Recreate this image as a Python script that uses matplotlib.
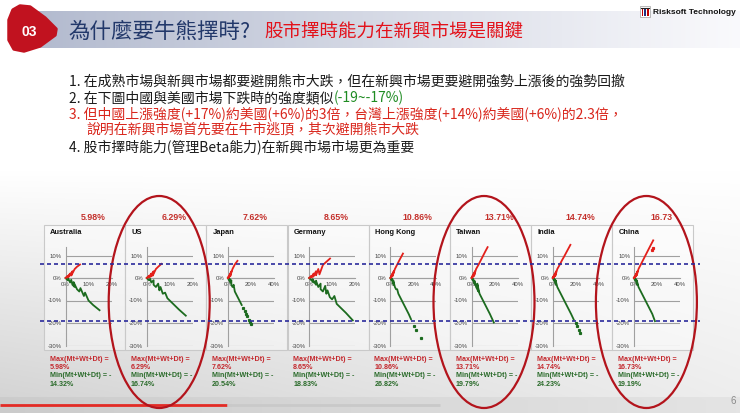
import matplotlib
matplotlib.use('Agg')
import matplotlib.pyplot as plt
import numpy as np
import matplotlib.transforms as mtransforms
from matplotlib.patches import Ellipse, Rectangle, Polygon

W, H = 740, 413
CJK = ['Noto Sans CJK TC', 'DejaVu Sans']
LAT = ['Liberation Sans', 'DejaVu Sans']

# ---------------- data ----------------
markets = ['Australia', 'US', 'Japan', 'Germany', 'Hong Kong', 'Taiwan', 'India', 'China']
max_labels = ['5.98%', '6.29%', '7.62%', '8.65%', '10.86%', '13.71%', '14.74%', '16.73']
max_vals = [5.98, 6.29, 7.62, 8.65, 10.86, 13.71, 14.74, 16.73]
min_vals = [-14.32, -16.74, -20.54, -18.83, -26.82, -19.79, -24.23, -19.19]
x_ticks = [[0, 10, 20], [0, 10, 20], [0, 20, 40], [0, 10, 20],
           [0, 20, 40], [0, 20, 40], [0, 20, 40], [0, 20, 40]]
y_ticks = [-30, -20, -10, 0, 10]
circled = ['US', 'Taiwan', 'China']

up_x = [[0, 1, 0.8, 2, 1.5, 3, 2.5, 4, 5, 6.3],
        [0, 1, 0.8, 2, 1.6, 3, 2.6, 4, 5, 6.4],
        [0, 1, 0.5, 2, 1.2, 3, 2, 4, 6, 8.3],
        [0, 1, 1, 2, 1.8, 3, 3, 4, 4.5, 6, 7.5, 9.1],
        [0, 1, 0.5, 2, 1.2, 3, 2, 4, 6, 8, 11],
        [0, 1, 0.5, 2, 1.2, 3, 2.2, 4, 6, 8, 10, 12, 14],
        [0, 1, 0.5, 2, 1.2, 3, 2.2, 4, 6, 8, 10, 12.5, 15.4],
        [0, 1, 0.5, 2, 1.5, 3, 2.5, 4, 6, 8, 10, 12, 14, 16.8]]
up_y = [[0, 1, 0.2, 2, 0.6, 3, 1.1, 4, 5, 5.98],
        [0, 1, 0.2, 2, 0.5, 3, 1.0, 4, 5, 6.29],
        [0, 1, 0.2, 2, 0.5, 3, 0.8, 4, 6, 7.62],
        [0, 1, 0.2, 2, 0.6, 3, 1.2, 4, 1.6, 5.8, 7.2, 8.65],
        [0, 1, 0.2, 2, 0.5, 3, 0.9, 4, 6, 8, 10.86],
        [0, 1, 0.2, 2, 0.5, 3, 0.9, 4, 5.8, 7.8, 9.8, 11.8, 13.71],
        [0, 1, 0.2, 2, 0.5, 3, 0.9, 4, 5.8, 7.8, 9.6, 12, 14.74],
        [0, 1, 0.2, 2, 0.6, 3, 1.2, 4, 6, 8, 10, 12, 14, 16.73]]
up_tail_x = [[], [], [], [], [], [], [], [15.5, 16.2]]
up_tail_y = [[], [], [], [], [], [], [], [12.6, 13.4]]

down_x = [[0, 1, 1.2, 2, 2.5, 3, 4, 3.5, 5, 6, 6.5, 8, 8.5, 10, 12, 14.8],
          [0, 1, 1.5, 2, 3, 3, 4, 5, 5.5, 6, 7, 8, 9, 10, 12, 14, 17],
          [0, 1, 1.5, 2, 3, 3, 4, 5, 6, 8, 10, 12],
          [0, 1, 2, 1.5, 3, 3, 4, 5, 5, 6, 7, 7.5, 8, 9, 10, 11, 12, 14, 16, 19],
          [0, 1, 1.5, 2, 3, 2.5, 4, 5, 6, 7, 8, 10, 12, 14, 16, 18],
          [0, 1, 1.5, 2, 3, 2.5, 4, 5, 6, 5, 7, 8, 10, 12, 14, 16, 19.4],
          [0, 1, 1.5, 2, 3, 2.5, 4, 5, 6, 7, 8, 10, 12, 14, 16, 18.3],
          [0, 1, 1.5, 2, 3, 2.5, 4, 5, 6, 7, 8, 10, 12, 14, 16, 18.3]]
down_y = [[0, -1, -0.3, -2, -0.8, -3, -4, -1.8, -5, -6, -4.5, -8, -6.5, -10, -12, -14.32],
          [0, -1, -0.4, -2, -1, -3, -4, -2.5, -5.5, -4, -7, -6.5, -9, -10, -12, -14, -16.74],
          [0, -1, -0.3, -2, -1, -3, -4, -3, -6, -8, -10, -12],
          [0, -1, -2, -0.5, -3, -1.2, -4, -2.5, -5, -6, -3.5, -7, -5.5, -8.5, -9.5, -8, -11.5, -13.5, -15.5, -18.83],
          [0, -1, -0.3, -2, -3, -1, -4, -5, -5, -7, -8, -10, -12, -14, -16, -18.3],
          [0, -1, -0.4, -2, -3, -1.2, -4, -5, -6, -2.5, -7, -8, -10, -12, -14, -16, -19.79],
          [0, -1, -0.3, -2, -3, -1, -4, -5, -6, -7, -8, -10, -12, -14, -16, -18.5],
          [0, -1, -0.3, -2, -3, -1, -4, -5, -6, -7, -8, -10, -12, -14, -16, -19.19]]
down_tail_x = [[], [], [13.5, 14.5, 16, 17, 18.5, 19.5, 20.5], [], [21, 22.5, 26.7], [], [20, 21.5, 23, 24], []]
down_tail_y = [[], [], [-13.5, -14.5, -16, -17, -18.5, -19.5, -20.54], [], [-21.5, -23, -26.82], [], [-20, -21.5, -23, -24.23], []]

# slide text
title_main = '為什麼要牛熊擇時?'
title_sub = '股市擇時能力在新興市場是關鍵'
bullet1 = '1. 在成熟市場與新興市場都要避開熊市大跌，但在新興市場更要避開強勢上漲後的強勢回撤'
bullet2a = '2. 在下圖中國與美國市場下跌時的強度類似'
bullet2b = '(-19~-17%)'
bullet3 = '3. 但中國上漲強度(+17%)約美國(+6%)的3倍，台灣上漲強度(+14%)約美國(+6%)的2.3倍，'
bullet3b = '說明在新興市場首先要在牛市逃頂，其次避開熊市大跌'
bullet4 = '4. 股市擇時能力(管理Beta能力)在新興市場市場更為重要'
band_upper = 6.29    # US max
band_lower = -19.19  # China min

# ---------------- figure ----------------
fig = plt.figure(figsize=(W / 100, H / 100), dpi=100)
bg = fig.add_axes([0, 0, 1, 1], zorder=0)
bg.set_xlim(0, W); bg.set_ylim(H, 0); bg.axis('off')

yy, xx = np.mgrid[0:H, 0:W]
t = np.clip((yy - 170) / 230.0, 0, 1)
shade = 1 - 0.17 * t * (1 - 0.6 * xx / W)
shade[yy > 396] *= 0.96
bg.imshow(np.dstack([shade] * 3), extent=(0, W, H, 0), aspect='auto', zorder=0)

# banner
grad = np.linspace(0, 1, 300)
c0 = np.array([0.70, 0.73, 0.81]); c1 = np.array([0.98, 0.98, 0.99])
band = (c0[None, :] * (1 - grad[:, None]) + c1[None, :] * grad[:, None])[None, :, :]
bg.imshow(band, extent=(30, 740, 48, 11), aspect='auto', zorder=1)
blob = Polygon([(20, 6), (30, 7), (45, 18), (56, 29), (55, 35), (40, 46), (24, 51),
                (14, 49), (9, 40), (9, 20), (13, 10)], closed=True,
               fc='#c1121f', ec='#c1121f', lw=2.5, joinstyle='round', zorder=2)
bg.add_patch(blob)
bg.text(29, 32, '03', color='white', fontsize=10, fontweight='bold', family=LAT,
        ha='center', va='center', zorder=3)
t1 = bg.text(68, 32, title_main, color='#22386a', fontsize=15.5, family=CJK,
             ha='left', va='center', zorder=3)
bg.annotate(title_sub, xy=(1, 0.5), xycoords=t1, xytext=(10, 0), textcoords='offset points',
            color='#e3121b', fontsize=13.3, family=CJK, ha='left', va='center', zorder=3)

# logo
bg.add_patch(Rectangle((640, 6), 10, 11, fc='white', ec='#888', lw=0.4, zorder=3))
for k, c in enumerate(['#c00000', '#1f2f80', '#c00000']):
    bg.add_patch(Rectangle((641.5 + k * 2.7, 8), 1.6, 8, fc=c, ec='none', zorder=4))
bg.plot([641, 649], [7.5, 7.5], color='#222', lw=0.8, zorder=4)
bg.text(653, 12, 'Risksoft Technology', fontsize=6, fontweight='bold', family=LAT,
        color='#111', ha='left', va='center', zorder=3)

# bullets
bx, fs = 69, 10
bg.text(bx, 82, bullet1, fontsize=fs, family=CJK, color='#1a1a1a', va='center')
b2 = bg.text(bx, 98, bullet2a, fontsize=fs, family=CJK, color='#1a1a1a', va='center')
bg.annotate(bullet2b, xy=(1, 0.5), xycoords=b2, xytext=(0, 0), textcoords='offset points',
            fontsize=fs, family=CJK, color='#1f8c23', va='center', ha='left')
bg.text(bx, 114, bullet3, fontsize=fs, family=CJK, color='#d9261c', va='center')
bg.text(bx + 17, 130, bullet3b, fontsize=fs, family=CJK, color='#d9261c', va='center')
bg.text(bx, 147, bullet4, fontsize=fs, family=CJK, color='#1a1a1a', va='center')

# page number & progress bar
bg.text(733, 401, '6', fontsize=7, color='#8a8a8a', ha='center', va='center', family=LAT)
bg.plot([0, 227], [405, 405], color='#e32b25', lw=2, solid_capstyle='butt', zorder=3)
bg.plot([227, 440], [405, 405], color='#c9c9c9', lw=2, solid_capstyle='butt', zorder=3)


def px_axes(x0, y0, w, h, z):
    return fig.add_axes([x0 / W, 1 - (y0 + h) / H, w / W, h / H], zorder=z)


RED = '#e3201b'
GREEN = '#1c6b1f'
GRID = '#a0a0a0'
panel_w, step, first_left = 81, 81.2, 44
axes = []
for i, m in enumerate(markets):
    left = first_left + step * i
    bg.add_patch(Rectangle((left, 225), panel_w, 125, fc='white', alpha=0.45,
                           ec='none', zorder=1))
    bg.add_patch(Rectangle((left, 225), panel_w, 125, fill=False,
                           ec='#c9c9c9', lw=0.8, zorder=1))
    bg.text(left + 6, 233, m, fontsize=5.4, fontweight='bold', family=LAT,
            color='#111', ha='left', va='center', zorder=2)
    bg.text(left + 49, 218, max_labels[i], fontsize=6.3, fontweight='bold', family=LAT,
            color='#c4302b', ha='center', va='center', zorder=2)
    bg.text(left + 5.5, 359.3, 'Max(Mt+Wt+Dt) =', fontsize=5.1, fontweight='bold',
            family=LAT, color='#c4282d', ha='left', va='center', zorder=2)
    bg.text(left + 5.5, 367.3, f'{max_vals[i]:.2f}%', fontsize=5.1, fontweight='bold',
            family=LAT, color='#c4282d', ha='left', va='center', zorder=2)
    bg.text(left + 5.5, 375.7, 'Min(Mt+Wt+Dt) = -', fontsize=5.1, fontweight='bold',
            family=LAT, color='#2a6b2a', ha='left', va='center', zorder=2)
    bg.text(left + 5.5, 384, f'{-min_vals[i]:.2f}%', fontsize=5.1, fontweight='bold',
            family=LAT, color='#2a6b2a', ha='left', va='center', zorder=2)

    ax = px_axes(left + 21.5, 246.5, 46, 99, 2)
    axes.append(ax)
    ax.set_xlim(0, x_ticks[i][-1]); ax.set_ylim(-30, 14)
    ax.patch.set_alpha(0)
    ax.spines['top'].set_visible(False)
    ax.spines['right'].set_visible(False)
    ax.spines['bottom'].set_position(('data', 0))
    ax.spines['bottom'].set_color(GRID); ax.spines['bottom'].set_linewidth(0.8)
    ax.spines['left'].set_color(GRID); ax.spines['left'].set_linewidth(0.8)
    ax.set_yticks(y_ticks)
    ax.set_yticklabels([f'{v}%' for v in y_ticks], family=LAT)
    ax.set_xticks(x_ticks[i])
    ax.set_xticklabels([f'{v}%' for v in x_ticks[i]], family=LAT)
    ax.tick_params(length=0, labelsize=4.3, labelcolor='#444')
    ax.tick_params(axis='y', pad=2.6)
    ax.tick_params(axis='x', pad=3.2)
    ax.yaxis.grid(True, color=GRID, lw=0.8)
    ax.set_axisbelow(True)
    ax.plot(down_x[i], down_y[i], color=GREEN, lw=1.3, clip_on=False, zorder=3)
    ax.plot(down_tail_x[i], down_tail_y[i], 's', color=GREEN, ms=1.3, clip_on=False, zorder=3)
    ax.plot(up_x[i], up_y[i], color=RED, lw=1.3, clip_on=False, zorder=4)
    ax.plot(up_tail_x[i], up_tail_y[i], 's', color=RED, ms=1.3, clip_on=False, zorder=4)

# annotation layer
top = fig.add_axes([0, 0, 1, 1], zorder=10)
top.set_xlim(0, W); top.set_ylim(H, 0); top.axis('off'); top.patch.set_alpha(0)
trans = mtransforms.blended_transform_factory(top.transData, axes[0].transData)
for lvl in [band_upper, band_lower]:
    top.plot([40, 700], [lvl, lvl], transform=trans, color='#2b2b9c', lw=1.2,
             dashes=(2.4, 1.8))
for i, m in enumerate(markets):
    if m in circled:
        left = first_left + step * i
        top.add_patch(Ellipse((left + 34, 302), 101, 212, fill=False,
                              ec='#b3141c', lw=1.6))
top.set_xlim(0, W); top.set_ylim(H, 0)

fig.savefig('out.png', dpi=100)
